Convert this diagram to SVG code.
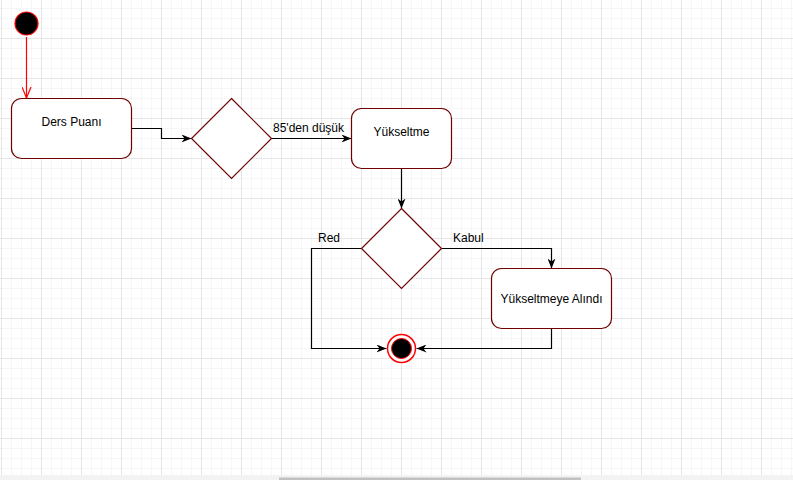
<svg xmlns="http://www.w3.org/2000/svg" width="793" height="480" viewBox="0 0 793 480">
<style>
.node{fill:#ffffff;stroke:#6f0000;stroke-width:1.2}
.lbl{font-family:"Liberation Sans",Arial,sans-serif;font-size:12px;fill:#000000}
.edge{fill:none;stroke:#000000;stroke-width:1.2}
</style>
<defs>
<pattern id="minor" patternUnits="userSpaceOnUse" x="1" y="8" width="10" height="10">
<path d="M0.5,0 V10 M0,0.5 H10" stroke="#f6f6f6" stroke-width="1" fill="none"/>
</pattern>
<pattern id="major" patternUnits="userSpaceOnUse" x="1" y="38" width="40" height="40">
<path d="M0.5,0 V40 M0,0.5 H40" stroke="#e6e6e6" stroke-width="1" fill="none"/>
</pattern>
<marker id="blk" markerUnits="userSpaceOnUse" viewBox="0 0 10 8" refX="10" refY="4" markerWidth="10" markerHeight="8" orient="auto">
<path d="M0,0 L10,4 L0,8 L3,4 Z" fill="#000000"/>
</marker>
<marker id="openRed" markerUnits="userSpaceOnUse" viewBox="0 0 12 10" refX="11" refY="5" markerWidth="12" markerHeight="10" orient="auto">
<path d="M0,0.5 L11,5 L0,9.5" fill="none" stroke="#ff0000" stroke-width="1.2"/>
</marker>
</defs>
<rect x="0" y="0" width="793" height="480" fill="#ffffff"/>
<rect x="0" y="0" width="793" height="475" fill="url(#minor)"/>
<rect x="0" y="0" width="793" height="475" fill="url(#major)"/>
<rect x="0" y="475" width="793" height="5" fill="#f3f3f3"/>
<rect x="279" y="477.5" width="302" height="2.5" fill="#c1c1c1"/>

<g id="connectors">
<path class="edge" d="M26.5,37 V98" style="stroke:#ff0000" marker-end="url(#openRed)"/>
<path class="edge" d="M131.5,128.5 H161.5 V138.5 H191.5" marker-end="url(#blk)"/>
<path class="edge" d="M271.5,138.5 H351.5" marker-end="url(#blk)"/>
<text class="lbl" x="273" y="132">85'den düşük</text>
<path class="edge" d="M401.5,168.5 V208.5" marker-end="url(#blk)"/>
<path class="edge" d="M361.5,248.5 H311.5 V348.5 H386.5" marker-end="url(#blk)"/>
<text class="lbl" x="318" y="242">Red</text>
<path class="edge" d="M441.5,248.5 H551.5 V268.5" marker-end="url(#blk)"/>
<text class="lbl" x="453" y="242">Kabul</text>
<path class="edge" d="M551.5,328.5 V348.5 H416.5" marker-end="url(#blk)"/>
</g>

<g id="start">
<circle cx="26.5" cy="23.5" r="11.5" fill="#000000" stroke="#ff0000" stroke-width="1.2"/>
</g>

<g id="ders-puani">
<rect class="node" x="11.5" y="98.5" width="120" height="60" rx="10" ry="10"/>
<text class="lbl" x="71.5" y="126" text-anchor="middle">Ders Puanı</text>
</g>

<g id="decision-1">
<path class="node" d="M231.5,98.5 L271.5,138.5 L231.5,178.5 L191.5,138.5 Z"/>
</g>

<g id="yukseltme">
<rect class="node" x="351.5" y="108.5" width="100" height="60" rx="10" ry="10"/>
<text class="lbl" x="401.5" y="136" text-anchor="middle">Yükseltme</text>
</g>

<g id="decision-2">
<path class="node" d="M401.5,208.5 L441.5,248.5 L401.5,288.5 L361.5,248.5 Z"/>
</g>

<g id="yukseltmeye-alindi">
<rect class="node" x="491.5" y="268.5" width="120" height="60" rx="10" ry="10"/>
<text class="lbl" x="551.5" y="303" text-anchor="middle">Yükseltmeye Alındı</text>
</g>

<g id="end">
<circle cx="401.5" cy="348.5" r="14" fill="#ffffff" stroke="#ff0000" stroke-width="1.5"/>
<circle cx="401.5" cy="348.5" r="10" fill="#000000" stroke="#ff0000" stroke-width="1"/>
</g>
</svg>
